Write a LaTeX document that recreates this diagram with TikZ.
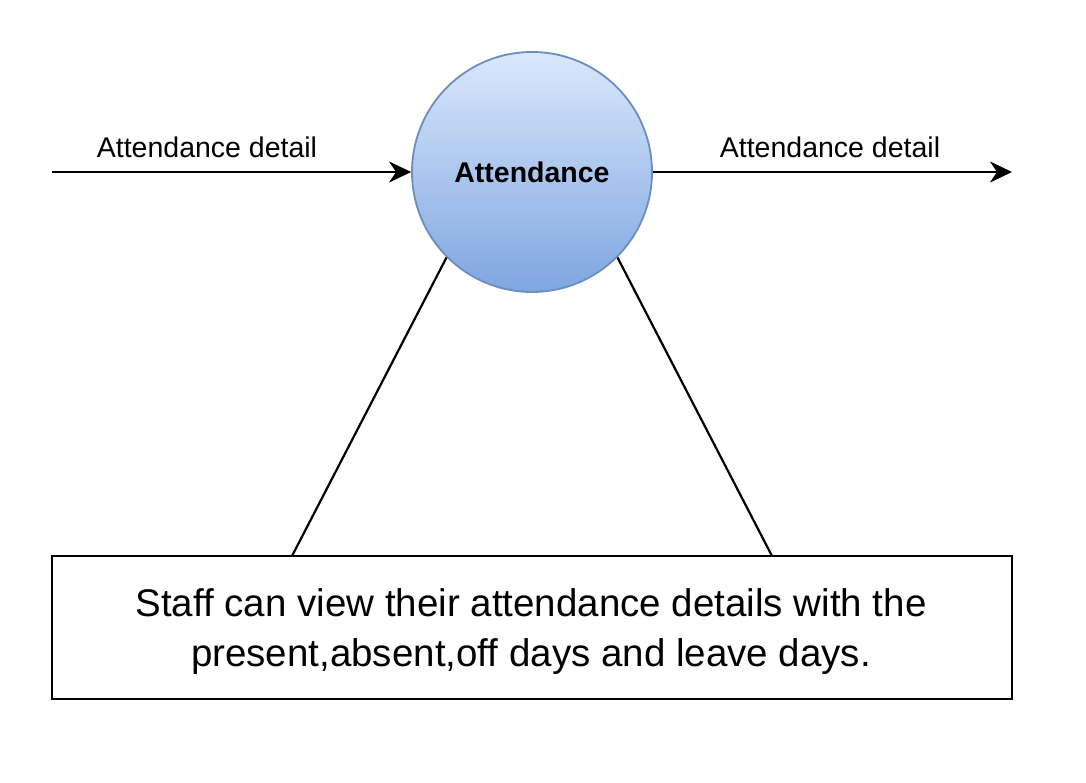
\documentclass[tikz,border=0pt]{standalone}
\usepackage{fontspec}
\setmainfont{Liberation Sans}
\usetikzlibrary{arrows.meta,shapes.geometric}
\definecolor{procfill1}{HTML}{DAE8FC}
\definecolor{procfill2}{HTML}{7EA6E0}
\definecolor{procdraw}{HTML}{6C8EBF}
\tikzset{
  proc/.style={circle, draw=procdraw, line width=1.8pt, top color=procfill1, bottom color=procfill2, minimum size=240pt, inner sep=0pt, font=\fontsize{28.5}{34}\selectfont\bfseries},
  flow/.style={line width=2.2pt, -{Stealth[length=22pt,width=21pt,inset=7pt]}},
  link/.style={line width=2.2pt},
  lbl/.style={font=\fontsize{28.5}{34}\selectfont, inner sep=0pt},
  notebox/.style={draw, line width=2.2pt, minimum width=960pt, minimum height=143pt, inner sep=0pt},
  notetext/.style={font=\fontsize{38.5}{50}\selectfont, align=center, inner sep=0pt}
}
\begin{document}
\begin{tikzpicture}[x=1pt,y=-1pt]
\useasboundingbox (0,0) rectangle (1086,782);
\node[proc] (p) at (532,172) {Attendance};
\coordinate (in) at (52,172);
\coordinate (out) at (1012,172);
\draw[flow] (in) -- (p.west);
\draw[flow] (p.east) -- (out);
\node[lbl] (l1) at (207,147) {Attendance detail};
\node[lbl] (l2) at (830,147) {Attendance detail};
\node[notebox] (n) at (532,627.5) {};
\node[notetext] (nt) at (531,632) {Staff can view their attendance details with the\\present,absent,off days and leave days.};
\coordinate (bl) at (292,556);
\coordinate (br) at (772,556);
\draw[link] (p.-135) -- (bl);
\draw[link] (p.-45) -- (br);
\end{tikzpicture}
\end{document}
